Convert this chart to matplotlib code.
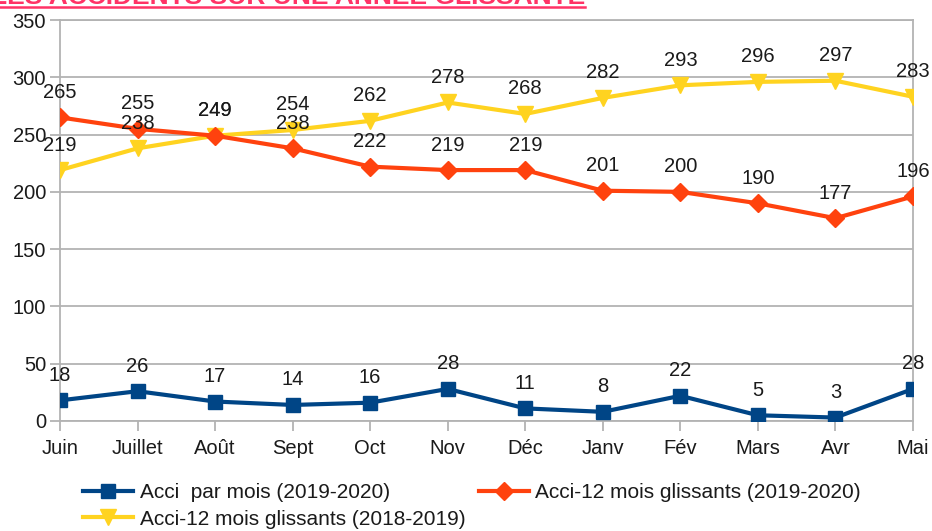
import matplotlib
matplotlib.use("Agg")
import matplotlib.pyplot as plt
from matplotlib.lines import Line2D

months = ["Juin", "Juillet", "Août", "Sept", "Oct", "Nov", "Déc", "Janv", "Fév", "Mars", "Avr", "Mai"]
acci_mois = [18, 26, 17, 14, 16, 28, 11, 8, 22, 5, 3, 28]
glissant_1920 = [265, 255, 249, 238, 222, 219, 219, 201, 200, 190, 177, 196]
glissant_1819 = [219, 238, 249, 254, 262, 278, 268, 282, 293, 296, 297, 283]
yticks = [0, 50, 100, 150, 200, 250, 300, 350]

plt.rcParams['font.family'] = ['Liberation Sans', 'DejaVu Sans']

W, H = 932, 531
fig = plt.figure(figsize=(W / 100, H / 100), dpi=100)
ax = fig.add_axes([60 / W, 1 - 421 / H, (913 - 60) / W, (421 - 20) / H])

grid_c = "#b3b3b3"
blue, orange, yellow = "#004586", "#ff420e", "#ffd320"
x = list(range(len(months)))

l1, = ax.plot(x, acci_mois, color=blue, lw=3, marker="s", ms=10, label="Acci  par mois (2019-2020)", zorder=5)
l2, = ax.plot(x, glissant_1920, color=orange, lw=3, marker="D", ms=9, label="Acci-12 mois glissants (2019-2020)", zorder=4)
l3, = ax.plot(x, glissant_1819, color=yellow, lw=3, marker="v", ms=12, label="Acci-12 mois glissants (2018-2019)", zorder=3)

for series in (acci_mois, glissant_1920, glissant_1819):
    for xi, v in zip(x, series):
        ax.annotate(str(v), (xi, v), xytext=(0, 18), textcoords="offset points",
                    ha="center", va="center", fontsize=14.5, color="#1a1a1a", zorder=6)

ax.set_xlim(0, 11)
ax.set_ylim(0, 350)
ax.set_yticks(yticks)
ax.set_xticks(x)
ax.set_xticklabels(months)
ax.yaxis.grid(True, color=grid_c, lw=1.3)
ax.set_axisbelow(True)
for s in ax.spines.values():
    s.set_color(grid_c)
    s.set_linewidth(1.3)
ax.tick_params(axis="both", colors=grid_c, length=7, width=1.3, labelsize=14.5, labelcolor="#1a1a1a")
ax.tick_params(axis="x", pad=6)
ax.tick_params(axis="y", pad=3)

leg = fig.legend(handles=[l1, l3, l2], loc="upper left", bbox_to_anchor=(75 / W, 1 - 475 / H),
                 ncol=2, frameon=False, fontsize=15, handlelength=2.4, handletextpad=0.3,
                 columnspacing=0.65, labelspacing=0.35, borderaxespad=0)
for t in leg.get_texts():
    t.set_color("#1a1a1a")

title_c = "#ff3366"
fig.text(585 / W, 1 - 4 / H, "LES ACCIDENTS SUR UNE ANNEE GLISSANTE", ha="right", va="baseline",
         fontsize=19, fontweight="bold", color=title_c)
fig.add_artist(Line2D([0, 585 / W], [1 - 7 / H, 1 - 7 / H], color=title_c, lw=1.8, transform=fig.transFigure))

fig.savefig("out.png", dpi=100)
